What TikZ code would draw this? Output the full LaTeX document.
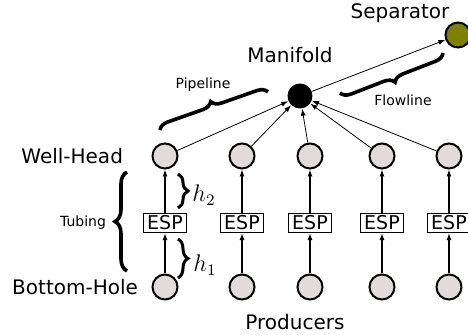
\documentclass[tikz,border=0pt]{standalone}
\usepackage{fontspec}
\setmainfont{DejaVu Sans}
\usetikzlibrary{arrows.meta,decorations.pathreplacing}
\definecolor{wellfill}{RGB}{226,219,219}
\definecolor{sepfill}{RGB}{128,128,0}
\begin{document}
\begin{tikzpicture}[x=0.5pt, y=0.5pt,
    well/.style={circle, draw, line width=1pt, fill=wellfill, minimum size=12.5pt, inner sep=0pt},
    pump/.style={draw, line width=0.5pt, font=\fontsize{9.5}{10}\selectfont, inner sep=1.2pt, minimum width=21.5pt},
    flow/.style={-{Latex[length=3.5pt,width=2.5pt]}, line width=0.4pt},
    lift/.style={-{Latex[length=3.5pt,width=2.5pt]}, line width=0.6pt},
    bigbrace/.style={decorate, decoration={brace, amplitude=5pt}, line width=1.8pt},
    biglabel/.style={font=\fontsize{10}{12}\selectfont},
    smalllabel/.style={font=\fontsize{7}{8}\selectfont}]
    \useasboundingbox (0,0) rectangle (468,335);

    % Manifold and separator
    \node[circle, fill=black, minimum size=12.5pt, inner sep=0pt] (man) at (300,239) {};
    \node[circle, draw, line width=1pt, fill=sepfill, minimum size=12.5pt, inner sep=0pt] (sep) at (458,300) {};
    \node[biglabel] (manlbl) at (290,280) {Manifold};
    \node[biglabel] (seplbl) at (400,322) {Separator};
    \draw[flow] (man) -- (sep);

    % Producers
    \foreach \i/\x in {1/165, 2/242, 3/310, 4/382, 5/449} {
        \node[well] (wh\i) at (\x,179) {};
        \node[pump] (esp\i) at (\x,112) {ESP};
        \node[well] (bh\i) at (\x,48) {};
        \draw[lift] (bh\i) -- (esp\i);
        \draw[lift] (esp\i) -- (wh\i);
        \draw[flow] (wh\i) -- (man);
    }

    % Labels
    \node[biglabel, anchor=east] (whlbl) at (130,179) {Well-Head};
    \node[biglabel, anchor=east] (bhlbl) at (145,48) {Bottom-Hole};
    \node[biglabel] (prodlbl) at (295,13) {Producers};

    % Braces
    \coordinate (tubtop) at (127,163);
    \coordinate (tubbot) at (127,64);
    \draw[bigbrace, decoration={amplitude=6pt}] (tubbot) -- (tubtop);
    \node[smalllabel] (tublbl) at (83,112) {Tubing};

    \coordinate (hatop) at (178,161);
    \coordinate (habot) at (178,127);
    \draw[bigbrace, line width=1.5pt] (hatop) -- (habot);
    \node[font=\fontsize{12}{14}\selectfont] (halbl) at (204,140) {$h_2$};

    \coordinate (hbtop) at (178,96);
    \coordinate (hbbot) at (178,57);
    \draw[bigbrace, line width=1.5pt] (hbtop) -- (hbbot);
    \node[font=\fontsize{12}{14}\selectfont] (hblbl) at (205,70) {$h_1$};

    \coordinate (pipea) at (160,205);
    \coordinate (pipeb) at (268,243);
    \draw[bigbrace] (pipea) -- (pipeb);
    \node[smalllabel] (pipelbl) at (203,250) {Pipeline};

    \coordinate (flowa) at (443,282);
    \coordinate (flowb) at (340,242);
    \draw[bigbrace] (flowa) -- (flowb);
    \node[smalllabel] (flowlbl) at (403,235) {Flowline};
\end{tikzpicture}
\end{document}
